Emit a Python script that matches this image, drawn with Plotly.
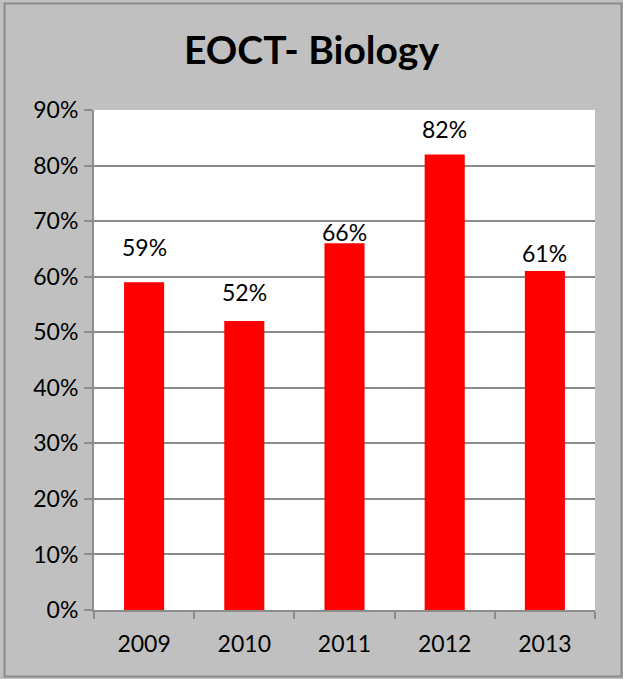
import plotly.graph_objects as go

years = ["2009", "2010", "2011", "2012", "2013"]
pass_rates = [59, 52, 66, 82, 61]
y_ticks = [0, 10, 20, 30, 40, 50, 60, 70, 80, 90]
y_tick_labels = [f"{v}%" for v in y_ticks]
bar_labels = [f"{v}%" for v in pass_rates]

# pixel lift of each value label above its bar top (labels were hand-placed)
label_lift = [35, 29, 11.5, 25.5, 18.5]

W, H = 623, 679
ML, MR, MT, MB = 94, 28, 110, 69
FONT = "Lato, 'Open Sans', sans-serif"
TXT = 23

fig = go.Figure(
    go.Bar(
        x=years,
        y=pass_rates,
        marker=dict(color="#ff0000", line=dict(width=0)),
        width=0.4,
        hoverinfo="x+y",
    )
)

# value labels, placed by category index on the category axis
for i, (val, lab, lift) in enumerate(zip(pass_rates, bar_labels, label_lift)):
    fig.add_annotation(
        x=i, y=val, text=lab, showarrow=False,
        xanchor="center", yanchor="middle", yshift=lift,
        font=dict(size=TXT, color="#000000", family=FONT),
    )

fig.update_layout(
    width=W,
    height=H,
    margin=dict(l=ML, r=MR, t=MT, b=MB),
    paper_bgcolor="#c0c0c0",
    plot_bgcolor="#ffffff",
    showlegend=False,
    title=dict(
        text="<b>EOCT- Biology</b>",
        x=0.5,
        xanchor="center",
        y=1 - 50 / H,
        yanchor="middle",
        font=dict(size=39, color="#000000", family=FONT),
    ),
    font=dict(family=FONT, color="#000000"),
)

fig.update_yaxes(
    range=[0, 90],
    tickvals=y_ticks,
    ticktext=y_tick_labels,
    tickfont=dict(size=TXT, family=FONT),
    showgrid=True,
    gridcolor="#8c8c8c",
    gridwidth=2,
    showline=True,
    linecolor="#8c8c8c",
    linewidth=2,
    ticks="outside",
    ticklen=8,
    tickcolor="#8c8c8c",
    tickwidth=2,
    ticklabelstandoff=1,
    zeroline=False,
)

fig.update_xaxes(
    type="category",
    categoryorder="array",
    categoryarray=years,
    range=[-0.5, len(years) - 0.5],
    tickfont=dict(size=TXT, family=FONT),
    tickangle=0,
    showline=True,
    linecolor="#8c8c8c",
    linewidth=2,
    showgrid=False,
    ticks="outside",
    tickson="boundaries",
    ticklen=7,
    tickcolor="#8c8c8c",
    tickwidth=2,
    ticklabelstandoff=12,
)

# outer chart border, positioned in paper coordinates
pw = W - ML - MR
ph = H - MT - MB
def px_x(v):
    return (v - ML) / pw
def px_y(v):
    return (H - MB - v) / ph

fig.add_shape(
    type="rect",
    xref="paper", yref="paper",
    x0=px_x(4.5), x1=px_x(621.5),
    y0=px_y(3.5), y1=px_y(676.5),
    line=dict(color="#8a8a8a", width=2),
    fillcolor="rgba(0,0,0,0)",
    layer="below",
)

fig.write_html("out.html")
